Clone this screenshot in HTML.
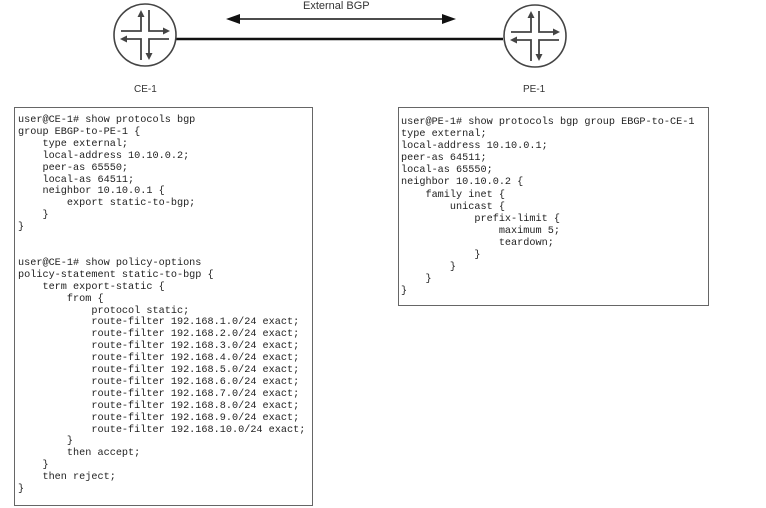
<!DOCTYPE html>
<html><head><meta charset="utf-8"><style>
html,body{margin:0;padding:0;background:#fff;width:766px;height:508px;overflow:hidden;position:relative}
.box{position:absolute;border:1.5px solid #666;background:#fff;box-sizing:border-box}
pre{position:absolute;margin:0;font-family:"Liberation Mono",monospace;font-size:10.2px;color:#222;}
.lbl{position:absolute;font-family:"Liberation Sans",sans-serif;font-size:10px;color:#333}
</style></head><body>
<svg width="766" height="100" style="position:absolute;left:0;top:0">
<defs>
<marker id="a" markerWidth="7" markerHeight="7" refX="5" refY="3.5" orient="auto" markerUnits="userSpaceOnUse"><path d="M0,0L7,3.5L0,7z" fill="#444"/></marker>
<g id="r">
<circle cx="0" cy="0" r="31" fill="#fff" stroke="#444" stroke-width="1.6"/>
<g stroke="#444" stroke-width="1.8" fill="none">
<path d="M-24,-4H-4V-23" marker-end="url(#a)"/>
<path d="M4,-25V-4H23" marker-end="url(#a)"/>
<path d="M-4,25V4H-23" marker-end="url(#a)"/>
<path d="M24,4H4V23" marker-end="url(#a)"/>
</g></g>
</defs>
<line x1="176" y1="39" x2="503" y2="39" stroke="#111" stroke-width="2.5"/>
<line x1="240" y1="19" x2="442" y2="19" stroke="#111" stroke-width="1.6"/>
<path d="M226,19L240,14L240,24z" fill="#111"/>
<path d="M456,19L442,14L442,24z" fill="#111"/>
<use href="#r" x="145" y="35"/>
<use href="#r" x="535" y="36"/>
</svg>
<div class="lbl" style="left:303px;top:0px;font-size:11px">External BGP</div>
<div class="lbl" style="left:134px;top:84px">CE-1</div>
<div class="lbl" style="left:523px;top:84px">PE-1</div>
<div class="box" style="left:14px;top:107px;width:299px;height:399px"></div>
<pre style="left:18px;top:115px;line-height:11.9px">user@CE-1# show protocols bgp
group EBGP-to-PE-1 {
    type external;
    local-address 10.10.0.2;
    peer-as 65550;
    local-as 64511;
    neighbor 10.10.0.1 {
        export static-to-bgp;
    }
}


user@CE-1# show policy-options
policy-statement static-to-bgp {
    term export-static {
        from {
            protocol static;
            route-filter 192.168.1.0/24 exact;
            route-filter 192.168.2.0/24 exact;
            route-filter 192.168.3.0/24 exact;
            route-filter 192.168.4.0/24 exact;
            route-filter 192.168.5.0/24 exact;
            route-filter 192.168.6.0/24 exact;
            route-filter 192.168.7.0/24 exact;
            route-filter 192.168.8.0/24 exact;
            route-filter 192.168.9.0/24 exact;
            route-filter 192.168.10.0/24 exact;
        }
        then accept;
    }
    then reject;
}</pre>
<div class="box" style="left:398px;top:107px;width:311px;height:199px"></div>
<pre style="left:401px;top:117px;line-height:12.1px">user@PE-1# show protocols bgp group EBGP-to-CE-1
type external;
local-address 10.10.0.1;
peer-as 64511;
local-as 65550;
neighbor 10.10.0.2 {
    family inet {
        unicast {
            prefix-limit {
                maximum 5;
                teardown;
            }
        }
    }
}</pre>
</body></html>
